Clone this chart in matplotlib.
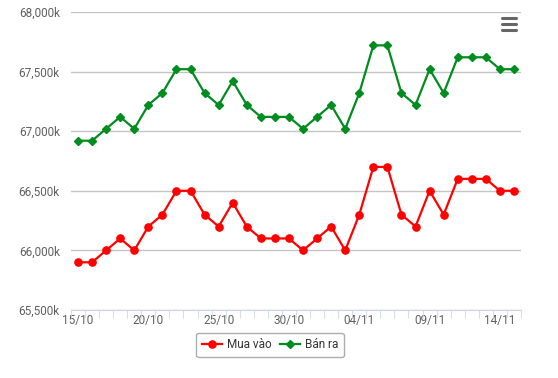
import matplotlib.pyplot as plt
from matplotlib.lines import Line2D

plt.rcParams['font.family'] = ['Roboto', 'DejaVu Sans']

dates = ['15/10', '16/10', '17/10', '18/10', '19/10', '20/10', '21/10', '22/10',
         '23/10', '24/10', '25/10', '26/10', '27/10', '28/10', '29/10', '30/10',
         '31/10', '01/11', '02/11', '03/11', '04/11', '05/11', '06/11', '07/11',
         '08/11', '09/11', '10/11', '11/11', '12/11', '13/11', '14/11', '15/11']
mua_vao = [65900, 65900, 66000, 66100, 66000, 66200, 66300, 66500,
           66500, 66300, 66200, 66400, 66200, 66100, 66100, 66100,
           66000, 66100, 66200, 66000, 66300, 66700, 66700, 66300,
           66200, 66500, 66300, 66600, 66600, 66600, 66500, 66500]
ban_ra = [66920, 66920, 67020, 67120, 67020, 67220, 67320, 67520,
          67520, 67320, 67220, 67420, 67220, 67120, 67120, 67120,
          67020, 67120, 67220, 67020, 67320, 67720, 67720, 67320,
          67220, 67520, 67320, 67620, 67620, 67620, 67520, 67520]

fig = plt.figure(figsize=(5.58, 3.78), dpi=100)
ax = fig.add_axes([0.1272, 0.1799, 0.8065, 0.7884])

x = range(len(dates))
ax.plot(x, mua_vao, color='#ff0000', lw=1.6, marker='o', ms=5.2,
        label='Mua vào', zorder=3)
ax.plot(x, ban_ra, color='#008c1e', lw=1.6, marker='D', ms=4.2,
        label='Bán ra', zorder=3)

ax.set_xlim(-0.5, len(dates) - 0.5)
ax.set_ylim(65500, 68000)
ax.set_yticks(range(65500, 68001, 500))
ax.set_yticklabels(['{:,}k'.format(v) for v in range(65500, 68001, 500)])
ax.set_xticks(range(0, len(dates), 5))
ax.set_xticklabels(dates[::5])
ax.set_xticks([i - 0.5 for i in range(len(dates) + 1)], minor=True)

ax.grid(axis='y', color='#c4c4c4', lw=1)
ax.set_axisbelow(True)
for s in ['top', 'right', 'left']:
    ax.spines[s].set_visible(False)
ax.spines['bottom'].set_color('#ccd6eb')
ax.tick_params(axis='y', length=0, pad=8, labelsize=8.5, labelcolor='#606060')
ax.tick_params(axis='x', which='major', length=0, pad=3, labelsize=8.5,
               labelcolor='#606060')
ax.tick_params(axis='x', which='minor', length=6, color='#ccd6eb', direction='out')

leg = fig.legend(loc='center', bbox_to_anchor=(270 / 558, 1 - 345 / 378),
                 ncol=2, fontsize=8.5, frameon=True, handlelength=1.7,
                 columnspacing=0.7, handletextpad=0.4, borderpad=0.5)
leg.get_frame().set_edgecolor('#999999')
leg.get_frame().set_linewidth(1)
for t in leg.get_texts():
    t.set_color('#333333')

# menu icon
for yy in [18, 24, 30]:
    fig.add_artist(Line2D([502 / 558, 516 / 558], [1 - yy / 378, 1 - yy / 378],
                          color='#666666', lw=2.2, solid_capstyle='round'))

fig.savefig('out.png', dpi=100)
